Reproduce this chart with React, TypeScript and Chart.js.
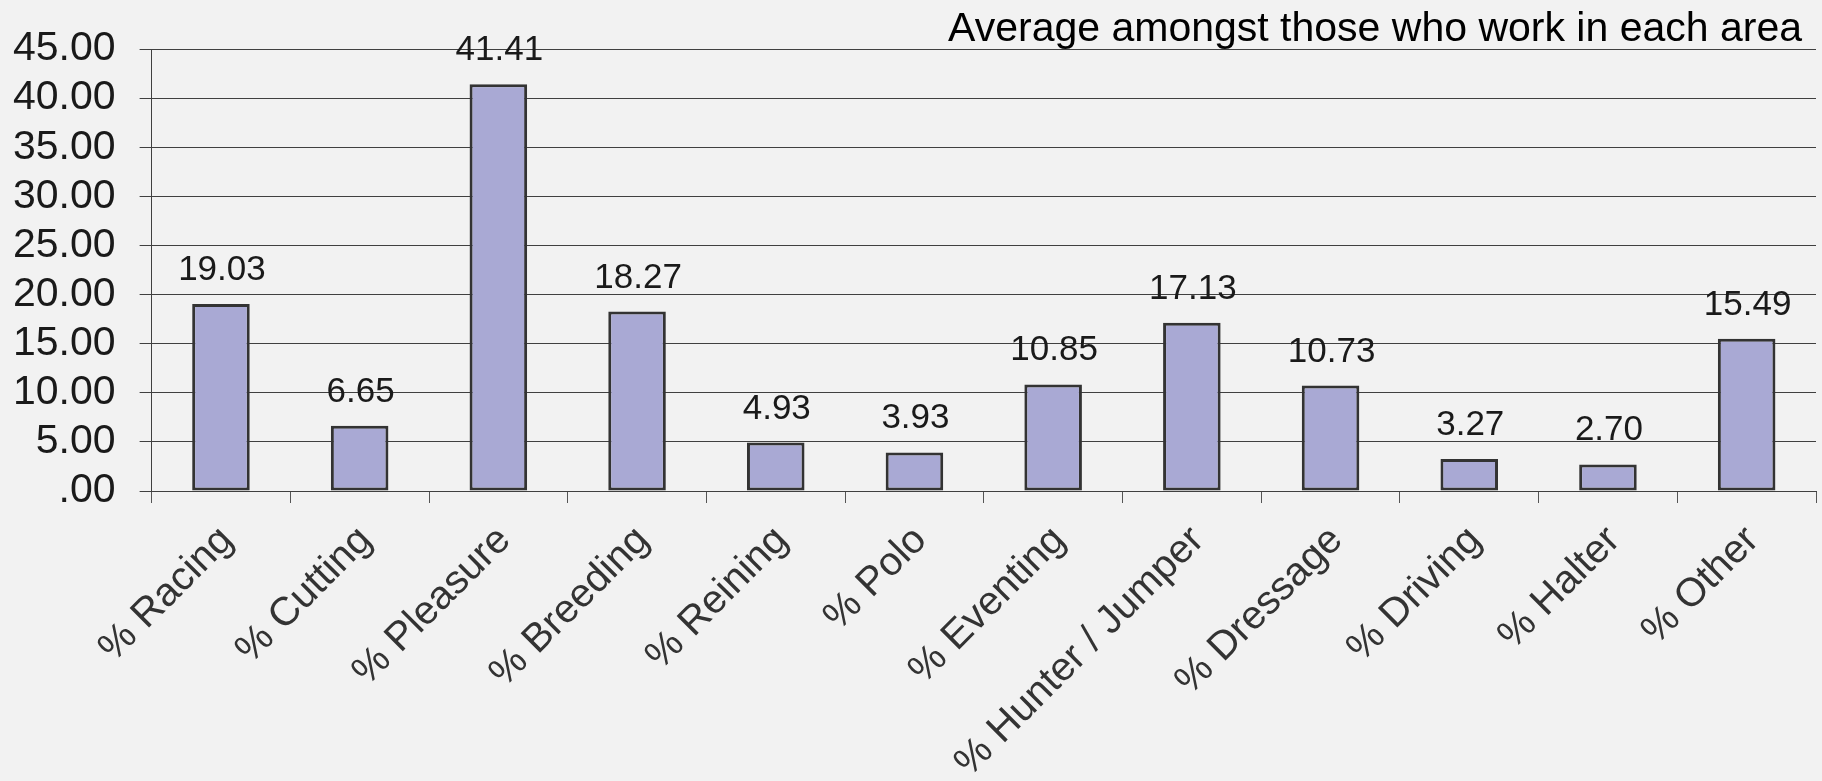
import React, { useEffect, useRef } from "react";
import { Chart, registerables } from "chart.js";

Chart.register(...registerables);

const categories = [
  "% Racing",
  "% Cutting",
  "% Pleasure",
  "% Breeding",
  "% Reining",
  "% Polo",
  "% Eventing",
  "% Hunter / Jumper",
  "% Dressage",
  "% Driving",
  "% Halter",
  "% Other",
];
const averages = [19.03, 6.65, 41.41, 18.27, 4.93, 3.93, 10.85, 17.13, 10.73, 3.27, 2.7, 15.49];
const chartTitle = "Average amongst those who work in each area";
const yMin = 0;
const yMax = 45;
const yStep = 5;

const FONT = "'Liberation Sans', Arial, sans-serif";

const labelPlugin = {
  id: "valueLabels",
  afterDatasetsDraw(chart: any) {
    const ctx = chart.ctx;
    const meta = chart.getDatasetMeta(0);
    ctx.save();
    ctx.font = `35px ${FONT}`;
    ctx.fillStyle = "#1a1a1a";
    ctx.textAlign = "center";
    ctx.textBaseline = "alphabetic";
    meta.data.forEach((bar: any, i: number) => {
      const v = chart.data.datasets[0].data[i] as number;
      ctx.fillText(v.toFixed(2), bar.x + 1, bar.y - 24);
    });
    ctx.restore();
  },
};

const titlePlugin = {
  id: "cornerTitle",
  afterDraw(chart: any) {
    const ctx = chart.ctx;
    const area = chart.chartArea;
    ctx.save();
    ctx.font = `41px ${FONT}`;
    ctx.fillStyle = "#000000";
    ctx.textAlign = "right";
    ctx.textBaseline = "alphabetic";
    ctx.fillText(chartTitle, area.right - 14, area.top - 8);
    ctx.restore();
  },
};

export default function App() {
  const canvasRef = useRef<HTMLCanvasElement | null>(null);

  useEffect(() => {
    if (!canvasRef.current) return;
    const chart = new Chart(canvasRef.current, {
      type: "bar",
      data: {
        labels: categories,
        datasets: [
          {
            data: averages,
            backgroundColor: "#a9a9d4",
            borderColor: "#333333",
            borderWidth: 3,
            borderSkipped: false,
            barPercentage: 0.415,
            categoryPercentage: 1,
          },
        ],
      },
      options: {
        animation: false,
        responsive: true,
        maintainAspectRatio: false,
        layout: { padding: { left: -11, right: 6, top: 49, bottom: 0 } },
        plugins: {
          legend: { display: false },
          tooltip: { enabled: false },
          title: { display: false },
        },
        scales: {
          x: {
            afterFit: (scale: any) => {
              scale.paddingLeft = 0;
              scale.paddingRight = 0;
              scale.height = 290;
            },
            grid: {
              drawOnChartArea: false,
              drawTicks: true,
              tickLength: 12,
              color: "#555555",
              offset: true,
            },
            border: { color: "#404040", width: 1 },
            ticks: {
              autoSkip: false,
              minRotation: 45,
              maxRotation: 45,
              padding: 14,
              labelOffset: 6,
              color: "#333333",
              font: { family: FONT, size: 40 },
            },
          },
          y: {
            min: yMin,
            max: yMax,
            grid: {
              color: "#404040",
              lineWidth: 1,
              tickLength: 12,
            },
            border: { color: "#404040", width: 1 },
            ticks: {
              autoSkip: false,
              stepSize: yStep,
              padding: 24,
              color: "#1a1a1a",
              font: { family: FONT, size: 41 },
              callback: (v: any) => (Number(v) === 0 ? ".00" : Number(v).toFixed(2)),
            },
          },
        },
      },
      plugins: [labelPlugin, titlePlugin],
    });
    return () => chart.destroy();
  }, []);

  return (
    <div
      style={{
        position: "absolute",
        left: 0,
        top: 0,
        width: 1822,
        height: 781,
        background: "#f2f2f2",
      }}
    >
      <canvas ref={canvasRef} />
    </div>
  );
}
